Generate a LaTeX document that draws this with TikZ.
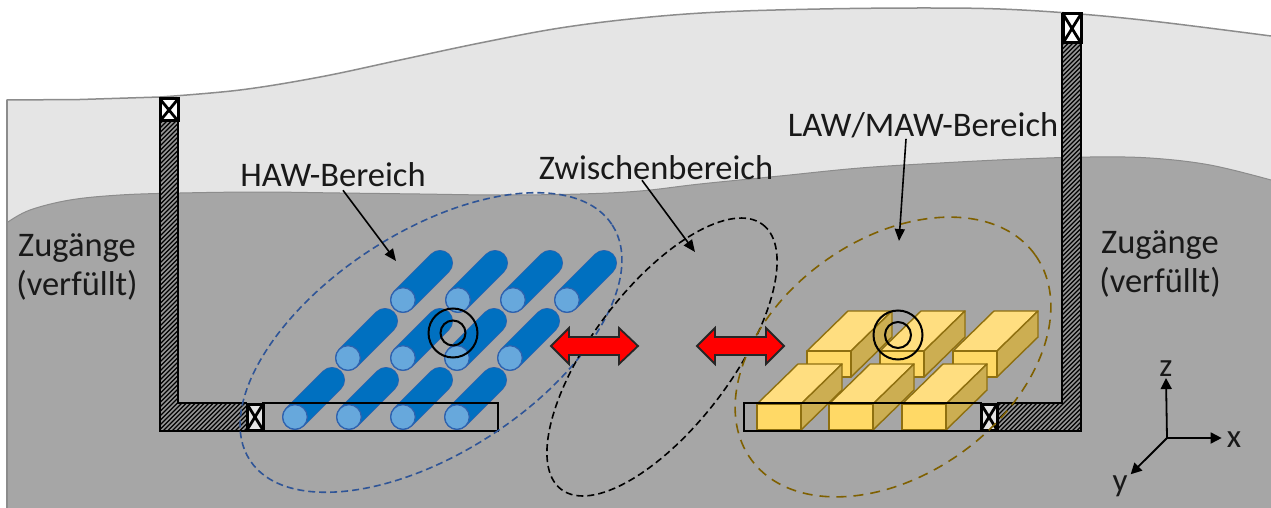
\documentclass[tikz,border=0pt]{standalone}
\usepackage{fontspec}
\setmainfont{Carlito}
\usetikzlibrary{arrows.meta}
\definecolor{lightrock}{HTML}{E5E5E5}
\definecolor{darkrock}{HTML}{A6A6A6}
\definecolor{rockline}{HTML}{8C8C8C}
\definecolor{cylblue}{HTML}{0070C0}
\definecolor{cylline}{HTML}{2F62AE}
\definecolor{cylcap}{HTML}{67A8DC}
\definecolor{blockfront}{HTML}{FFD966}
\definecolor{blocktop}{HTML}{FFDE80}
\definecolor{blockside}{HTML}{CCAE52}
\definecolor{blockline}{HTML}{8F7010}
\definecolor{ellblue}{HTML}{2F5597}
\definecolor{ellgold}{HTML}{7F6000}
\tikzset{
  x=1pt,y=-1pt,
  label text/.style={font=\fontsize{34.5}{39.5}\selectfont,text=black!90,inner sep=0pt,align=center},
  axis text/.style={font=\fontsize{33}{36}\selectfont,text=black!90,inner sep=0pt},
  pointer/.style={line width=1.6pt,-{Triangle[length=12pt,width=10pt]}},
  axisline/.style={line width=1.8pt,-{Triangle[length=11pt,width=11pt]}},
  region/.style={line width=1.6pt},
  sealbox/.style={fill=white,draw=black,line width=3pt},
  doublearrow/.style={fill=red,draw=black!85,line width=1.8pt,line join=miter},
  ringline/.style={draw=black,line width=2pt},
  blockedge/.style={draw=blockline,line width=1.4pt,line join=round},
}
\newcommand{\hatchfill}[4]{% x1 y1 x2 y2
  \begin{scope}
    \clip (#1,#2) rectangle (#3,#4);
    \fill[black!42] (#1,#2) rectangle (#3,#4);
    \foreach \k in {-600,-595.5,...,1300}
      \draw[black,line width=1.35pt] (\k,510) -- ++(510,-510);
  \end{scope}}
\newcommand{\cylinder}[2]{%
  \draw[cylline,line width=26pt,line cap=round] (#1,#2) -- ++(37,-37);
  \draw[cylblue,line width=24.5pt,line cap=round] (#1,#2) -- ++(37,-37);
  \fill[cylcap,draw=cylline,line width=1.2pt] (#1,#2) circle[radius=12.3];}
\newcommand{\block}[2]{%
  \fill[blocktop,blockedge] (#1,#2) -- ++(41,-40) -- ++(44,0) -- ++(-41,40) -- cycle;
  \fill[blockside,blockedge] (#1+44,#2) -- ++(41,-40) -- ++(0,26) -- ++(-41,40) -- cycle;
  \fill[blockfront,blockedge] (#1,#2) rectangle ++(44,26);}
\newcommand{\sealmark}[5]{% x1 y1 x2 y2 fill
  \draw[sealbox,fill=#5] (#1,#2) rectangle (#3,#4);
  \draw[black,line width=2.8pt] (#1,#2) -- (#3,#4) (#1,#4) -- (#3,#2);}
\begin{document}
\begin{tikzpicture}
\useasboundingbox (0,0) rectangle (1271,508);
\fill[white] (0,0) rectangle (1271,508);
% rock
\fill[lightrock] (7,508) -- (7,100) -- (80,99.5) -- (160,97) -- plot[smooth,tension=0.6] coordinates {(160,97) (240,90) (320,77) (400,60) (480,43) (560,28) (640,18) (720,12) (820,9) (920,8) (1000,9) (1080,14) (1160,22) (1271,36)} -- (1271,508) -- cycle;
\draw[rockline,line width=1.5pt] (7,508) -- (7,100) -- (80,99.5) -- (160,97) -- plot[smooth,tension=0.6] coordinates {(160,97) (240,90) (320,77) (400,60) (480,43) (560,28) (640,18) (720,12) (820,9) (920,8) (1000,9) (1080,14) (1160,22) (1271,36)};
\fill[darkrock] (8,508) -- (8,222) -- plot[smooth,tension=0.6] coordinates {(8,222) (30,210) (70,200) (120,195) (180,193) (260,192) (340,193) (420,194) (500,195) (580,194) (640,191) (700,184) (780,176) (860,168) (940,163) (1020,159) (1090,157) (1150,158) (1210,165) (1271,180)} -- (1271,508) -- cycle;
\draw[rockline,line width=1pt] plot[smooth,tension=0.6] coordinates {(8,222) (30,210) (70,200) (120,195) (180,193) (260,192) (340,193) (420,194) (500,195) (580,194) (640,191) (700,184) (780,176) (860,168) (940,163) (1020,159) (1090,157) (1150,158) (1210,165) (1271,180)};
\draw[rockline,line width=1.5pt] (7,100) -- (7,508);
% left access gallery
\begin{scope}
  \clip (159,98) rectangle (178,431) (159,403) rectangle (247,431);
  \hatchfill{159}{98}{248}{431}
\end{scope}
\draw[black,line width=2pt,line join=miter] (247,431) -- (160,431) -- (160,98) -- (178,98) -- (178,403) -- (247,403);
\sealmark{160}{99}{178}{121}{white}
% right access gallery
\begin{scope}
  \clip (1062,14) rectangle (1081,431) (997,403) rectangle (1081,431);
  \hatchfill{997}{14}{1081}{431}
\end{scope}
\draw[black,line width=2pt,line join=miter] (997,431) -- (1081,431) -- (1081,14) -- (1062,14) -- (1062,403) -- (997,403);
\sealmark{1063}{14}{1081}{43}{white}
% cylinders
\foreach \px in {403,458,513,567} {\cylinder{\px}{300}}
\foreach \px in {348,403,457,510} {\cylinder{\px}{358}}
\foreach \px in {295,349,403,457} {\cylinder{\px}{417}}
% blocks
\foreach \px in {807,880,953} {\block{\px}{351}}
\foreach \px in {757,829,902} {\block{\px}{404}}
% emplacement drift outlines
\draw[black,line width=1.8pt] (263,403) rectangle (498,431);
\draw[black,line width=1.8pt] (744,403) rectangle (981,431);
\sealmark{247}{404}{263}{430}{lightrock}
\sealmark{981}{404}{997}{430}{lightrock}
% regions
\draw[region,ellblue,dash pattern=on 7pt off 4pt,rotate around={33:(431,342.5)}] (431,342.5) ellipse[x radius=216,y radius=110.5];
\draw[region,black,dash pattern=on 7pt off 4pt,rotate around={52.7:(662,357)}] (662,357) ellipse[x radius=166.4,y radius=69.7];
\draw[region,ellgold,dash pattern=on 10pt off 7pt,rotate around={35.7:(893,357)}] (893,357) ellipse[x radius=175,y radius=117.7];
% rings
\draw[ringline] (453,333) circle[radius=24.5];
\draw[ringline] (453,333) circle[radius=12.5];
\draw[ringline] (898,335) circle[radius=24.5];
\draw[ringline] (898,335) circle[radius=13];
% double arrows
\draw[doublearrow] (551,346) -- (569,328) -- (569,337) -- (619,337) -- (619,328) -- (638,346) -- (619,364) -- (619,355) -- (569,355) -- (569,364) -- cycle;
\draw[doublearrow] (697,346) -- (715,328) -- (715,337) -- (766,337) -- (766,328) -- (784,346) -- (766,364) -- (766,355) -- (715,355) -- (715,364) -- cycle;
% labels
\node[label text] (hawlabel) at (333,175) {HAW-Bereich};
\node[label text] (midlabel) at (656,168) {Zwischenbereich};
\node[label text] (lawlabel) at (923,125) {LAW/MAW-Bereich};
\node[label text] (leftlabel) at (77,267) {Zugänge\\(verfüllt)};
\node[label text] (rightlabel) at (1160,264) {Zugänge\\(verfüllt)};
\coordinate (hawtarget) at (396,261);
\coordinate (midtarget) at (695,252);
\coordinate (lawtarget) at (899,241);
\draw[pointer] ([xshift=10pt,yshift=-3pt]hawlabel.south) -- (hawtarget);
\draw[pointer] ([xshift=-14pt,yshift=0pt]midlabel.south) -- (midtarget);
\draw[pointer] ([xshift=-17pt,yshift=-1pt]lawlabel.south) -- (lawtarget);
% axes
\coordinate (origin) at (1167,438);
\node[axis text] (zlabel) at (1166,369) {z};
\node[axis text] (xlabel) at (1234,440) {x};
\node[axis text] (ylabel) at (1120,486) {y};
\draw[axisline] (origin) -- ([yshift=-1pt]zlabel.south);
\draw[axisline] (origin) -- ([xshift=-5pt]xlabel.west |- origin);
\draw[axisline] (origin) -- ([xshift=3pt,yshift=1pt]ylabel.north east);
\end{tikzpicture}
\end{document}
